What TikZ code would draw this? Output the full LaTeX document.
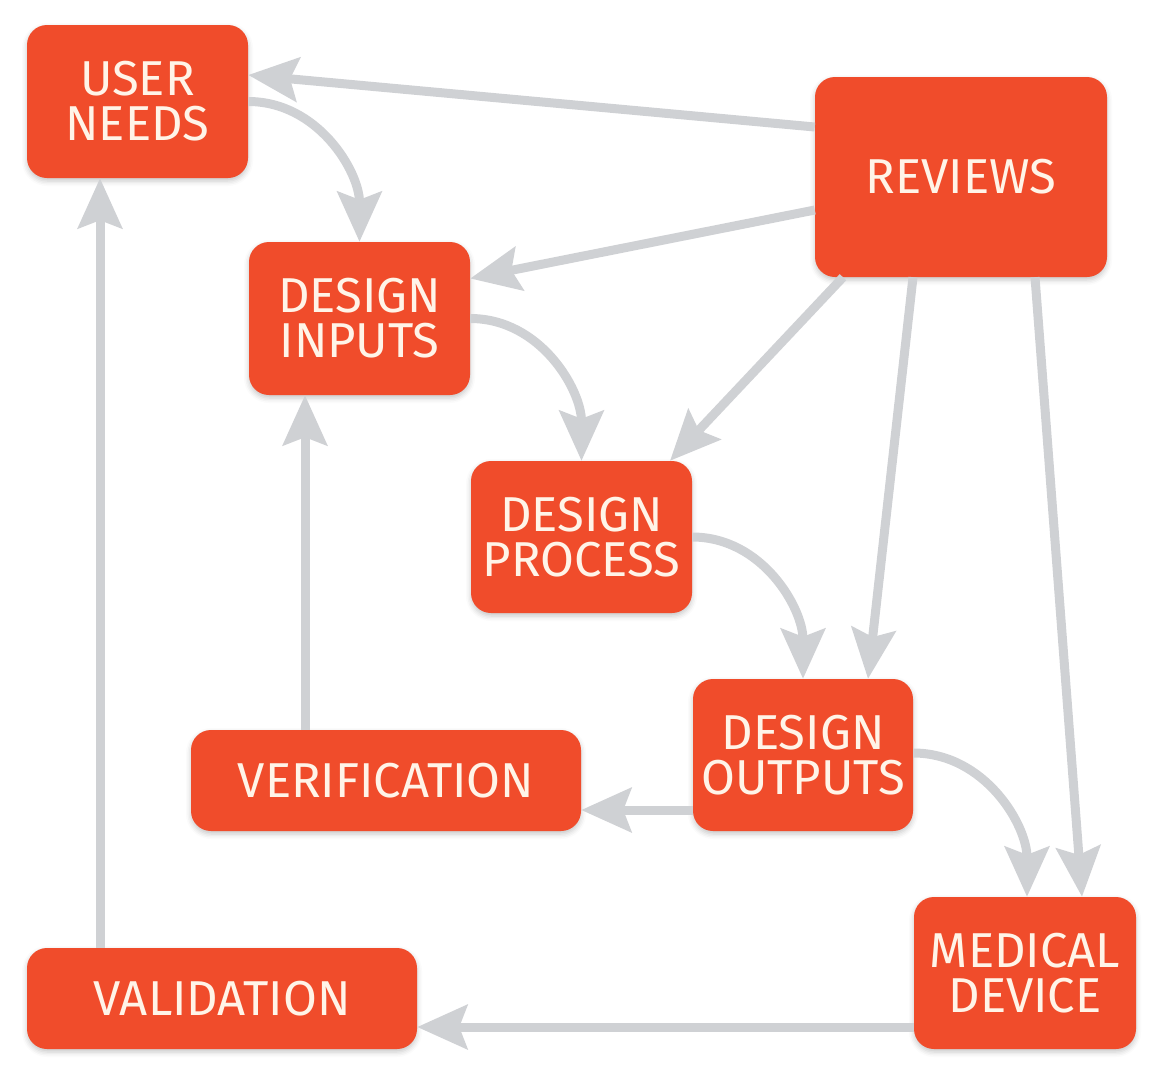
\documentclass[tikz,border=0pt]{standalone}
\usepackage{fontspec}
\setmainfont{Fira Sans}
\usetikzlibrary{arrows.meta,shadows.blur}

\definecolor{boxred}{HTML}{F04C2B}
\definecolor{boxtext}{HTML}{FFF4E8}
\definecolor{linkgray}{HTML}{CFD1D4}

\tikzset{
  stage/.style={draw=none, fill=boxred, rounded corners=20pt, inner sep=0pt,
    text=boxtext, align=center, font=\fontsize{49}{45}\selectfont,
    blur shadow={shadow xshift=0pt, shadow yshift=-3pt, shadow blur radius=5pt, shadow opacity=22}},
  link/.style={draw=linkgray, line width=9pt,
    -{Stealth[length=50pt, width=44pt, inset=8pt]}}
}

\begin{document}
\begin{tikzpicture}[x=1pt, y=-1pt]
  \useasboundingbox (0,0) rectangle (1164,1080);
  % 绘制各个阶段
  \node[stage, minimum width=221pt, minimum height=153pt] (needs) at (137.5,101.5) {USER\\NEEDS};
  \node[stage, minimum width=292pt, minimum height=200pt] (reviews) at (961,177) {REVIEWS};
  \node[stage, minimum width=221pt, minimum height=153pt] (inputs) at (359.5,318.5) {DESIGN\\INPUTS};
  \node[stage, minimum width=221pt, minimum height=152pt] (process) at (581.5,537) {DESIGN\\PROCESS};
  \node[stage, minimum width=220pt, minimum height=152pt] (outputs) at (803,755) {DESIGN\\OUTPUTS};
  \node[stage, minimum width=390pt, minimum height=101pt] (verif) at (386,780.5) {VERIFICATION};
  \node[stage, minimum width=390pt, minimum height=101pt] (valid) at (222,998.5) {VALIDATION};
  \node[stage, minimum width=222pt, minimum height=152pt] (device) at (1025,973) {MEDICAL\\DEVICE};
  % 评审指向各阶段
  \draw[link] ([yshift=50pt]reviews.west) -- ([yshift=26.5pt]needs.east);
  \draw[link] ([yshift=-33pt]reviews.west) -- ([yshift=40pt]inputs.east);
  \draw[link] ([xshift=-118pt]reviews.south) -- ([xshift=88.5pt]process.north);
  \draw[link] ([xshift=-48pt]reviews.south) -- ([xshift=65pt]outputs.north);
  \draw[link] ([xshift=74pt]reviews.south) -- ([xshift=57pt]device.north);
  % 设计流程的弯箭头
  \draw[link] (needs.east) to[out=0, in=90] (inputs.north);
  \draw[link] (inputs.east) to[out=0, in=90] (process.north);
  \draw[link] (process.east) to[out=0, in=90] (outputs.north);
  \draw[link] ([yshift=2pt]outputs.east) to[out=0, in=90] ([xshift=2pt]device.north);
  % 验证与确认
  \draw[link] ([yshift=-55pt]outputs.west) -- ([yshift=-29.5pt]verif.east);
  \draw[link] ([xshift=-81pt]verif.north) -- ([xshift=-54.5pt]inputs.south);
  \draw[link] ([yshift=-54pt]device.west) -- ([yshift=-28.5pt]valid.east);
  \draw[link] ([xshift=-122pt]valid.north) -- ([xshift=-37.5pt]needs.south);
\end{tikzpicture}
\end{document}
